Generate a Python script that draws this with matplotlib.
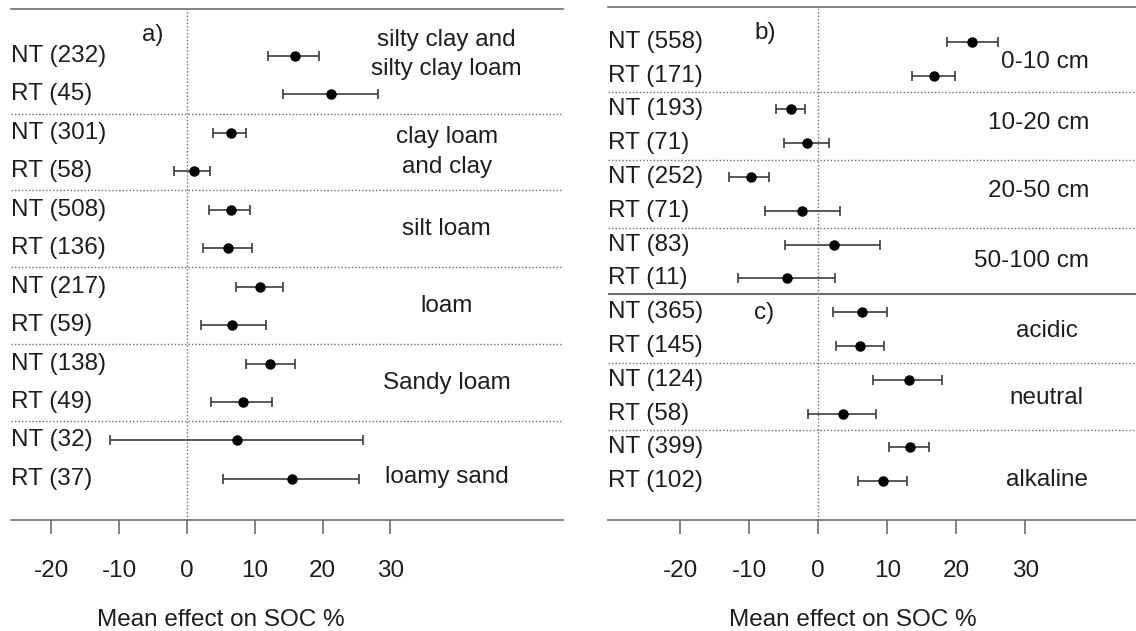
import numpy as np
import matplotlib.pyplot as plt

plt.rcParams['font.family'] = ['Liberation Sans', 'DejaVu Sans']

# a) soil texture
tex_labels = ["NT (232)", "RT (45)", "NT (301)", "RT (58)", "NT (508)", "RT (136)",
              "NT (217)", "RT (59)", "NT (138)", "RT (49)", "NT (32)", "RT (37)"]
tex_mean = [15.9, 21.2, 6.5, 1.0, 6.5, 6.1, 10.8, 6.7, 12.3, 8.2, 7.4, 15.5]
tex_lo = [12.0, 14.1, 3.9, -1.9, 3.3, 2.4, 7.3, 2.0, 8.7, 3.6, -11.4, 5.3]
tex_hi = [19.5, 28.1, 8.7, 3.4, 9.3, 9.6, 14.1, 11.6, 15.9, 12.6, 25.9, 25.4]
tex_groups = ["silty clay and\nsilty clay loam", "clay loam\nand clay", "silt loam",
              "loam", "Sandy loam", "loamy sand"]

# b) depth
depth_labels = ["NT (558)", "RT (171)", "NT (193)", "RT (71)", "NT (252)", "RT (71)",
                "NT (83)", "RT (11)"]
depth_mean = [22.3, 16.8, -4.0, -1.6, -9.7, -2.3, 2.3, -4.5]
depth_lo = [18.7, 13.6, -6.1, -5.0, -13.0, -7.8, -4.8, -11.6]
depth_hi = [26.0, 19.8, -1.9, 1.6, -7.1, 3.1, 9.0, 2.4]
depth_groups = ["0-10 cm", "10-20 cm", "20-50 cm", "50-100 cm"]

# c) soil pH
ph_labels = ["NT (365)", "RT (145)", "NT (124)", "RT (58)", "NT (399)", "RT (102)"]
ph_mean = [6.3, 6.0, 13.1, 3.6, 13.3, 9.4]
ph_lo = [2.2, 2.6, 7.9, -1.5, 10.3, 5.8]
ph_hi = [9.9, 9.5, 18.0, 8.4, 16.0, 12.8]
ph_groups = ["acidic", "neutral", "alkaline"]

ticks = [-20, -10, 0, 10, 20, 30]

W, H = 1136, 631
FS = 17.5
TXT = '#1e1e1e'
LINE = '#6e6e6e'

fig = plt.figure(figsize=(W / 100, H / 100), dpi=100)


def make_axes(x0, x1, y0, y1, xlim, ylim, label_y):
    ax = fig.add_axes([x0 / W, 1 - y1 / H, (x1 - x0) / W, (y1 - y0) / H])
    ax.set_xlim(*xlim)
    ax.set_ylim(*ylim)
    for s in ['left', 'right']:
        ax.spines[s].set_visible(False)
    for s in ['top', 'bottom']:
        ax.spines[s].set_color(LINE)
        ax.spines[s].set_linewidth(1.2)
    ax.set_yticks([])
    ax.set_xticks(ticks)
    ax.set_xticklabels([str(t) for t in ticks], fontsize=FS, color=TXT)
    ax.tick_params(axis='x', length=10, width=1.2, color=LINE, pad=19)
    ax.axvline(0, color=LINE, lw=1.0, ls=(0, (1, 1.5)))
    ax.text(5, label_y, "Mean effect on SOC %", fontsize=FS, color=TXT,
            ha='center', va='center', clip_on=False)
    return ax


def draw_rows(ax, labels, mean, lo, hi, start):
    rows = np.arange(len(labels)) + start
    mean = np.array(mean)
    xerr = [mean - np.array(lo), np.array(hi) - mean]
    ax.errorbar(mean, rows, xerr=xerr, fmt='o', color='black', ms=6.5,
                ecolor='#3c3c3c', elinewidth=1.2, capsize=3.5, capthick=1.2, zorder=3)
    for r, lab in zip(rows, labels):
        ax.text(0.0, r, lab, fontsize=FS, color=TXT, ha='left', va='center',
                transform=ax.get_yaxis_transform())
    return rows


# left panel
axa = make_axes(11, 563, 9, 520, (-25.96, 55.46), (12.07, -1.22), 14.67)
draw_rows(axa, tex_labels, tex_mean, tex_lo, tex_hi, 0)
for k in range(1, len(tex_groups)):
    axa.axhline(2 * k - 0.5, color=LINE, lw=1.0, ls=(0, (1, 1.5)))
tex_label_rows = [-0.04, 2.5, 4.5, 6.5, 8.5, 10.95]
for g, r in zip(tex_groups, tex_label_rows):
    axa.text(38.3, r, g, fontsize=FS, color=TXT, ha='center', va='center',
             linespacing=1.45)
axa.text(-6.7, -0.55, "a)", fontsize=FS, color=TXT, ha='left', va='center')

# right panel
axb = make_axes(608, 1136, 7, 520, (-30.5, 46.08), (14.15, -1.03), 17.1)
draw_rows(axb, depth_labels, depth_mean, depth_lo, depth_hi, 0)
draw_rows(axb, ph_labels, ph_mean, ph_lo, ph_hi, len(depth_labels))
for k in [1, 3, 5, 9, 11]:
    axb.axhline(k + 0.5, color=LINE, lw=1.0, ls=(0, (1, 1.5)))
axb.axhline(7.45, color=LINE, lw=1.5)
depth_label_rows = [0.6, 2.4, 4.4, 6.5]
for g, r in zip(depth_groups, depth_label_rows):
    axb.text(39.3, r, g, fontsize=FS, color=TXT, ha='right', va='center')
ph_label_rows = [8.55, 10.55, 12.97]
for g, r in zip(ph_groups, ph_label_rows):
    axb.text(33.1, r, g, fontsize=FS, color=TXT, ha='center', va='center')
axb.text(-9.3, -0.26, "b)", fontsize=FS, color=TXT, ha='left', va='center')
axb.text(-9.3, 8.03, "c)", fontsize=FS, color=TXT, ha='left', va='center')

fig.savefig("out.png", dpi=100)
